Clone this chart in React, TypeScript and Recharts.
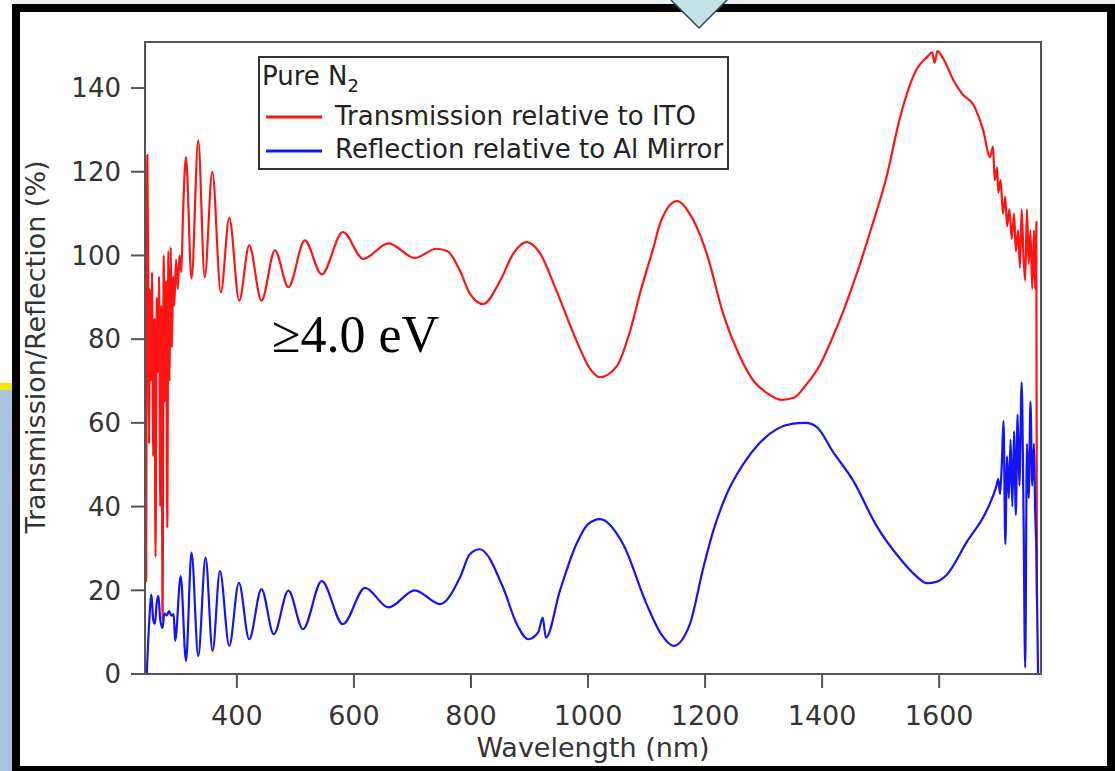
import {
  LineChart,
  Line,
  XAxis,
  YAxis,
  Legend,
  Label,
  ReferenceArea,
} from 'recharts';

/**
 * Pure N2 — transmission (vs. ITO) and reflection (vs. Al mirror) spectra.
 * Values; monotone curves through the fringe extrema.
 */

const SANS = '"DejaVu Sans", Verdana, sans-serif';
const SERIF = '"Liberation Serif", "Times New Roman", serif';
const RED = '#ff1414';
const BLUE = '#1414f5';
const AXIS = '#555';

const seriesNames = [
  'Transmission relative to ITO',
  'Reflection relative to Al Mirror',
];

// Transmission relative to ITO (%)
const transNm = [
  245, 247, 249, 250, 251, 253, 255, 257, 259, 261, 263, 265, 267, 269, 271,
  273, 275, 277, 279, 281, 283, 285, 287, 289, 291, 293, 296, 299, 302, 305,
  308, 313, 322.5, 334, 345, 358, 372.6, 387, 404, 421, 442, 465, 488, 516,
  545, 581, 616, 659, 704, 741, 760, 781, 798, 821, 850, 872, 895, 918, 946,
  980, 1003, 1020, 1049, 1072, 1090, 1112, 1123, 1152, 1180, 1203, 1231, 1260,
  1283, 1305, 1330, 1352, 1372, 1397, 1415, 1437, 1460, 1482, 1511, 1533,
  1562, 1580, 1588, 1592, 1597, 1607, 1625, 1640, 1659, 1675, 1687, 1692,
  1695, 1699, 1701, 1705, 1709, 1713, 1716, 1720, 1724, 1728, 1731, 1735,
  1738, 1741, 1744, 1747, 1750, 1753, 1756, 1759, 1762, 1764, 1766, 1767,
];
const transPct = [
  22, 124, 80, 55, 92, 70, 96, 52, 85, 28, 90, 72, 95, 40, 88,
  13, 100, 65, 94, 35, 101, 70, 102, 78, 95, 88, 99, 92, 100, 96,
  110, 123.5, 94.5, 127.5, 94.8, 120, 91.2, 109, 89.2, 102.4, 89.2, 101.2, 92.4, 103.6,
  95.5, 105.6, 99.2, 102.9, 99.4, 101.6, 101, 96.4, 90.9, 88.4, 94, 100.4, 103.2, 100.5, 91.6,
  79.7, 73, 70.9, 73.5, 82, 91.6, 102, 107.6, 113, 108.4, 100.4, 86, 75.7,
  70, 67.2, 65.5, 66, 69, 74, 79.5, 87, 96, 105.6, 119.3, 132.9,
  144.6, 147.5, 148.5, 146, 148.8, 147, 141.7, 138.5, 135.9, 130, 123.5, 126,
  118, 121, 115, 118, 110, 114, 107, 111, 104, 110, 101, 106,
  97, 111, 100, 94, 111, 98, 106, 92, 106, 92, 108, 18,
];

// Reflection relative to Al Mirror (%)
const reflNm = [
  246, 250, 254, 257, 260, 263, 266, 269, 273, 276, 280, 284, 288, 292, 294.5,
  304, 313, 322.5, 334, 346.5, 358.5, 371, 387, 403.4, 421, 442, 463, 488, 513,
  545, 581, 619, 659, 704, 747, 781, 798, 815, 855, 878, 898, 915, 922.5, 928,
  952, 980, 1000, 1020.5, 1060, 1100, 1125, 1146, 1174, 1197, 1214, 1237,
  1265.5, 1294, 1322.5, 1350, 1372, 1391, 1419, 1453, 1493, 1533, 1560,
  1579, 1595, 1613, 1647, 1682, 1698, 1701, 1704, 1707, 1710, 1713, 1716,
  1719, 1722, 1725, 1728, 1731, 1734, 1737, 1741, 1744, 1747, 1750, 1753,
  1756, 1759, 1762, 1764, 1766, 1769,
];
const reflPct = [
  0, 12, 19, 13, 12, 17, 18.7, 13, 11, 14.5, 14, 15, 14, 14.3, 7.9,
  23.4, 3.1, 29, 4.3, 27.8, 5.5, 24.6, 6.7, 21.8, 8.3, 20.3, 9.5, 19.9, 10.7,
  22.2, 11.9, 20.6, 15.9, 20, 16.7, 23, 28.6, 29.8, 20.6, 12, 8.3, 10, 13.5, 8.7,
  19.9, 31, 35.8, 37, 31, 16.7, 9.5, 6.7, 11.9, 25.4, 34.2, 43,
  50.2, 55.3, 58.5, 59.8, 60, 59, 53, 46.2, 35.4, 27.6, 23.5,
  21.7, 22, 23.7, 31.5, 39.3, 45, 46.6, 43, 50, 60.5, 31, 52,
  42, 56, 40, 58, 38, 62, 45, 69.7, 40, 1.5, 55, 42,
  65, 45, 55, 39, 30, 0,
];

const xTicks = [400, 600, 800, 1000, 1200, 1400, 1600];
const yTicks = [0, 20, 40, 60, 80, 100, 120, 140];
const xDomain: [number, number] = [243, 1774];
const yDomain: [number, number] = [0, 151];

const transData = transNm.map((x, i) => ({ x, y: transPct[i] }));
const reflData = reflNm.map((x, i) => ({ x, y: reflPct[i] }));

function LegendBox({ payload }: { payload?: any[] }) {
  // keep the slide's order, not recharts' alphabetical one
  const items = [...(payload ?? [])].sort(
    (a, b) => seriesNames.indexOf(a.value) - seriesNames.indexOf(b.value),
  );
  return (
    <svg width={471} height={114} style={{ display: 'block' }}>
      <rect
        x={1}
        y={1}
        width={469}
        height={112}
        fill='#fff'
        stroke='#333'
        strokeWidth={2}
      />
      <text x={4} y={29} fontFamily={SANS} fontSize={26} fill='#222'>
        Pure N
        <tspan fontSize={18} dy={7}>
          2
        </tspan>
      </text>
      {items.map((p, i) => (
        <g key={p.value}>
          <line
            x1={8}
            x2={64}
            y1={61 + i * 34}
            y2={61 + i * 34}
            stroke={p.color}
            strokeWidth={3}
          />
          <text
            x={77}
            y={69 + i * 33}
            fontFamily={SANS}
            fontSize={26}
            fill='#222'
          >
            {p.value}
          </text>
        </g>
      ))}
    </svg>
  );
}

// rotated y title, nudged a little above the plot centre like the slide
function YTitle(props: any) {
  const vb = props.viewBox;
  const x = vb.x - 20;
  const y = vb.y + vb.height / 2 - 11;
  return (
    <text
      x={x}
      y={y}
      transform={`rotate(-90 ${x} ${y})`}
      textAnchor='middle'
      fontFamily={SANS}
      fontSize={27}
      fill='#333'
    >
      Transmission/Reflection (%)
    </text>
  );
}

function SpectraChart() {
  return (
    <LineChart
      width={1115}
      height={771}
      margin={{ top: 42, right: 74, bottom: 47, left: 65 }}
    >
      <ReferenceArea
        x1={xDomain[0]}
        x2={xDomain[1]}
        y1={yDomain[0]}
        y2={yDomain[1]}
        fill='none'
        stroke={AXIS}
        strokeWidth={2}
        ifOverflow='extendDomain'
      />
      <XAxis
        dataKey='x'
        type='number'
        domain={xDomain}
        ticks={xTicks}
        allowDataOverflow
        height={50}
        tickSize={14}
        tickMargin={18}
        stroke={AXIS}
        strokeWidth={2}
        tick={{ fontSize: 27, fill: '#333', fontFamily: SANS }}
      >
        <Label
          value='Wavelength (nm)'
          position='bottom'
          offset={14}
          style={{ fontSize: 27, fill: '#333', fontFamily: SANS }}
        />
      </XAxis>
      <YAxis
        type='number'
        domain={yDomain}
        ticks={yTicks}
        allowDataOverflow
        width={80}
        tickSize={14}
        tickMargin={10}
        stroke={AXIS}
        strokeWidth={2}
        tick={{ fontSize: 26, fill: '#333', fontFamily: SANS }}
      >
        <Label content={<YTitle />} />
      </YAxis>
      <Legend
        layout='vertical'
        align='center'
        verticalAlign='middle'
        content={<LegendBox />}
        wrapperStyle={{ left: 258, top: 56, width: 471, height: 114 }}
      />
      <Line
        data={transData}
        dataKey='y'
        name={seriesNames[0]}
        type='monotone'
        stroke={RED}
        strokeWidth={2.2}
        dot={false}
        isAnimationActive={false}
      />
      <Line
        data={reflData}
        dataKey='y'
        name={seriesNames[1]}
        type='monotone'
        stroke={BLUE}
        strokeWidth={2.2}
        dot={false}
        isAnimationActive={false}
      />
    </LineChart>
  );
}

export default function App() {
  return (
    <div
      style={{
        position: 'absolute',
        left: 0,
        top: 0,
        width: 1115,
        height: 771,
        overflow: 'hidden',
        background: '#eaf0f4',
      }}
    >
      {/* strip of the slide showing on the left */}
      <div style={{ position: 'absolute', left: 0, top: 0, width: 12, height: 383, background: '#fff' }} />
      <div style={{ position: 'absolute', left: 0, top: 383, width: 12, height: 7, background: '#f2ea00' }} />
      <div style={{ position: 'absolute', left: 0, top: 390, width: 12, height: 381, background: '#a9c4de' }} />
      {/* black frame */}
      <div
        style={{
          position: 'absolute',
          left: 12,
          top: 4,
          width: 1103,
          height: 770,
          border: '8px solid #000',
          boxSizing: 'border-box',
          background: '#fff',
        }}
      />
      <div style={{ position: 'absolute', left: 0, top: 0 }}>
        <SpectraChart />
      </div>
      <svg
        width={1115}
        height={771}
        style={{ position: 'absolute', left: 0, top: 0, pointerEvents: 'none' }}
      >
        <polygon
          points='667,-4 731,-4 699,28'
          fill='#c2e2e5'
          stroke='#2f4a55'
          strokeWidth={1.5}
        />
        <text x={272} y={352} fontFamily={SERIF} fontSize={52} fill='#000'>
          ≥4.0 eV
        </text>
      </svg>
    </div>
  );
}
